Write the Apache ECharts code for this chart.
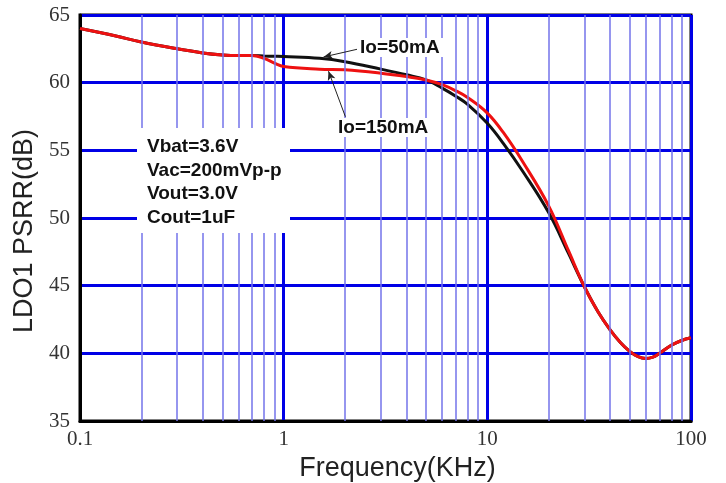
<!DOCTYPE html>
<html>
<head>
<meta charset="utf-8">
<script src="https://cdn.jsdelivr.net/npm/echarts@6/dist/echarts.min.js"></script>
<style>
  html, body { margin: 0; padding: 0; background: #fff; }
  #psrr-chart { width: 726px; height: 483px; }
</style>
</head>
<body>
<div id="psrr-chart"></div>
<script>
// frequency points (KHz)
var freqs = [0.1, 0.15, 0.2, 0.3, 0.4, 0.5, 0.6, 0.7, 0.8, 0.9, 1, 1.5, 2, 3, 4, 5, 6, 7, 8, 10, 12, 15, 20, 25, 30, 35, 40, 45, 50, 55, 60, 65, 70, 80, 90, 100];
// Io=150mA (red)
var psrr150 = [64.0, 63.45, 63.0, 62.5, 62.2, 62.05, 62.0, 62.0, 61.8, 61.45, 61.2, 61.0, 60.95, 60.7, 60.45, 60.2, 59.85, 59.4, 58.9, 57.75, 56.3, 54.1, 50.9, 47.6, 44.9, 43.05, 41.75, 40.8, 40.15, 39.75, 39.62, 39.72, 40.0, 40.6, 40.95, 41.15];
// Io=50mA (black)
var psrr50 = [64.0, 63.45, 63.0, 62.5, 62.2, 62.05, 62.0, 62.0, 61.97, 61.95, 61.93, 61.8, 61.55, 61.0, 60.58, 60.2, 59.6, 59.0, 58.4, 57.0, 55.5, 53.4, 50.4, 47.4, 44.9, 43.05, 41.75, 40.8, 40.15, 39.75, 39.62, 39.72, 40.0, 40.6, 40.95, 41.15];
// minor vertical grid lines
var minorFreqs = [0.2, 0.3, 0.4, 0.5, 0.6, 0.7, 0.8, 0.9, 2, 3, 4, 5, 6, 7, 8, 9, 20, 30, 40, 50, 60, 70, 80, 90];
var conditions = ['Vbat=3.6V', 'Vac=200mVp-p', 'Vout=3.0V', 'Cout=1uF'];

function pairs(xs, ys) {
  var out = [];
  for (var i = 0; i < xs.length; i++) out.push([xs[i], ys[i]]);
  return out;
}

var myChart = echarts.init(document.getElementById('psrr-chart'));
var bold = 'bold 19px "Liberation Sans", Arial, sans-serif';

myChart.setOption({
  animation: false,
  grid: {
    left: 80, right: 35, top: 15, bottom: 62,
    outerBoundsMode: 'none',
    show: true, borderColor: '#000', borderWidth: 3
  },
  xAxis: {
    type: 'log',
    logBase: 10,
    min: 0.1,
    max: 100,
    name: 'Frequency(KHz)',
    nameLocation: 'middle',
    nameGap: 23,
    nameTextStyle: { fontFamily: 'Liberation Sans', fontSize: 27, color: '#222', padding: [0, 0, 0, 24] },
    axisLine: { lineStyle: { color: '#000', width: 3 } },
    axisTick: { show: false },
    axisLabel: {
      margin: 8,
      fontFamily: 'Liberation Serif', fontSize: 21, color: '#333',
      formatter: function (v) { return String(+v.toPrecision(3)); }
    },
    splitLine: { show: true, lineStyle: { color: '#0000e6', width: 3 } }
  },
  yAxis: {
    type: 'value',
    min: 35,
    max: 65,
    interval: 5,
    name: 'LDO1 PSRR(dB)',
    nameLocation: 'middle',
    nameGap: 41,
    nameTextStyle: { fontFamily: 'Liberation Sans', fontSize: 27, color: '#222', padding: [0, 26, 0, 0] },
    axisLine: { show: true, lineStyle: { color: '#000', width: 3 } },
    axisTick: { show: false },
    axisLabel: { margin: 10, fontFamily: 'Liberation Serif', fontSize: 21, color: '#333' },
    splitLine: { show: true, lineStyle: { color: '#0000e6', width: 3 } }
  },
  series: [
    {
      name: 'grid',
      type: 'line',
      data: [],
      z: 1,
      silent: true,
      markLine: {
        silent: true,
        symbol: ['none', 'none'],
        label: { show: false },
        lineStyle: { color: '#7373ea', width: 1.5, type: 'solid' },
        data: minorFreqs.map(function (f) { return { xAxis: f }; })
      }
    },
    {
      name: 'Io=50mA',
      type: 'line',
      z: 3,
      smooth: 0.4,
      showSymbol: false,
      lineStyle: { color: '#111', width: 3 },
      data: pairs(freqs, psrr50),
      markLine: {
        silent: true,
        symbol: ['none', 'arrow'],
        symbolSize: [6, 9],
        label: { show: false },
        lineStyle: { color: '#222', width: 1, type: 'solid' },
        data: [
          [{ coord: [2.33, 62.49] }, { coord: [1.57, 61.9] }],
          [{ coord: [2.01, 57.48] }, { coord: [1.66, 60.85] }]
        ]
      }
    },
    {
      name: 'Io=150mA',
      type: 'line',
      z: 4,
      smooth: 0.4,
      showSymbol: false,
      lineStyle: { color: '#ee1111', width: 3 },
      data: pairs(freqs, psrr150)
    }
  ],
  graphic: [
    { type: 'rect', shape: { x: 137, y: 128, width: 153, height: 105 }, style: { fill: '#fff' }, z: 10 },
    {
      type: 'text', left: 147, top: 135, z: 11,
      style: { text: conditions.join('\n'), font: bold, fill: '#111', lineHeight: 23.7 }
    },
    { type: 'rect', shape: { x: 357, y: 38, width: 86, height: 19 }, style: { fill: '#fff' }, z: 10 },
    { type: 'text', left: 360, top: 38, z: 11, style: { text: 'Io=50mA', font: bold, fill: '#111' } },
    { type: 'rect', shape: { x: 335, y: 118, width: 97, height: 19 }, style: { fill: '#fff' }, z: 10 },
    { type: 'text', left: 338, top: 118, z: 11, style: { text: 'Io=150mA', font: bold, fill: '#111' } }
  ]
});
</script>
</body>
</html>
